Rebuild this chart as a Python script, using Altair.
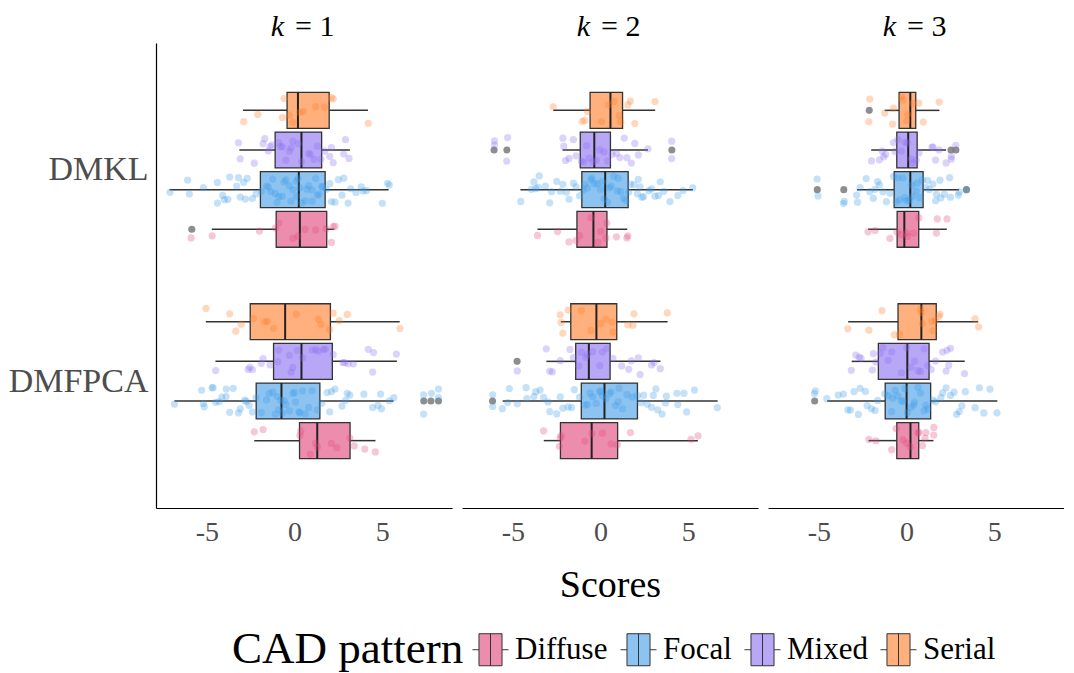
import altair as alt
import pandas as pd

# ---------------- data ----------------
K_VALUES = [1, 2, 3]
METHODS = ["DMKL", "DMFPCA"]
PATTERNS = ["Diffuse", "Focal", "Mixed", "Serial"]
FILL_COLORS = ["#EC8DAE", "#8CC3F1", "#B8A7F6", "#FFB07C"]
POINT_COLORS = ["#E0457B", "#3A9AE8", "#8B6CF2", "#FF7C25"]

# order: k -> method (DMKL, DMFPCA) -> pattern (Diffuse, Focal, Mixed, Serial)
whisker_low = [-4.72, -7.13, -3.15, -2.94, -2.30, -6.85, -4.51, -5.06,
               -3.60, -4.57, -2.17, -2.70, -3.24, -5.58, -3.09, -2.27,
               -2.19, -2.83, -2.02, -1.25, -2.17, -4.53, -3.13, -3.33]
q1 = [-1.05, -1.95, -1.11, -0.43, 0.28, -2.19, -1.20, -2.53,
      -1.35, -1.07, -1.16, -0.60, -2.29, -1.10, -1.42, -1.70,
      -0.54, -0.71, -0.56, -0.43, -0.56, -1.22, -1.61, -0.49]
median = [0.30, 0.24, 0.39, 0.19, 1.29, -0.75, 0.39, -0.54,
          -0.41, 0.26, -0.36, 0.56, -0.51, 0.22, -0.67, -0.24,
          -0.13, 0.21, 0.09, 0.21, 0.22, 0.00, 0.04, 0.84]
q3 = [1.83, 1.74, 1.54, 1.97, 3.16, 1.44, 2.15, 2.04,
      0.36, 1.57, 0.56, 1.25, 0.97, 2.10, 0.54, 0.92,
      0.69, 0.94, 0.60, 0.52, 0.69, 1.37, 1.28, 1.69]
whisker_high = [2.26, 5.36, 3.15, 4.18, 4.61, 5.64, 5.83, 5.99,
                1.52, 5.26, 2.70, 3.11, 5.54, 6.67, 3.41, 3.82,
                2.29, 2.99, 2.25, 1.87, 1.53, 5.17, 3.31, 4.08]

outliers = [
    (1, "DMKL", "Diffuse", -5.86),
    (1, "DMFPCA", "Focal", 7.36), (1, "DMFPCA", "Focal", 7.77), (1, "DMFPCA", "Focal", 8.20),
    (2, "DMKL", "Mixed", -6.07), (2, "DMKL", "Mixed", -5.34), (2, "DMKL", "Mixed", 4.06),
    (2, "DMFPCA", "Mixed", -4.76), (2, "DMFPCA", "Focal", -6.16),
    (3, "DMKL", "Serial", -2.13), (3, "DMKL", "Mixed", 2.53), (3, "DMKL", "Mixed", 2.81),
    (3, "DMKL", "Focal", -5.09), (3, "DMKL", "Focal", -3.58), (3, "DMKL", "Focal", 3.41),
    (3, "DMFPCA", "Focal", -5.24),
]

points = {
    (1, "DMKL", "Diffuse"): [-5.9, -4.7, -2.0, -1.1, -0.9, -0.1, 0.2, 0.6, 1.2, 1.8, 2.1, 2.2, 2.3],
    (1, "DMKL", "Focal"): [-7.1, -6.1, -6.0, -5.2, -4.4, -4.4, -4.1, -4.0, -3.8, -3.7, -3.3, -3.2, -3.1,
                           -2.9, -2.8, -2.7, -2.4, -2.2, -1.9, -1.6, -1.5, -1.35, -1.25, -1.1, -1.0,
                           -0.9, -0.7, -0.6, -0.5, -0.3, -0.2, -0.1, 0.1, 0.1, 0.2, 0.3, 0.4, 0.6,
                           0.7, 0.8, 1.0, 1.0, 1.2, 1.3, 1.4, 1.55, 1.6, 1.8, 2.0, 2.1, 2.3, 2.5,
                           2.7, 2.8, 3.05, 3.2, 3.5, 3.8, 3.9, 4.1, 5.0, 5.3, 5.4],
    (1, "DMKL", "Mixed"): [-3.2, -3.1, -2.3, -1.8, -1.7, -1.5, -1.4, -1.3, -0.9, -0.8, -0.7, -0.5,
                           -0.3, -0.2, -0.1, 0.2, 0.4, 0.8, 0.9, 1.1, 1.3, 1.5, 1.7, 2.0, 2.1, 2.2,
                           2.8, 2.9, 3.1],
    (1, "DMKL", "Serial"): [-2.9, -2.1, -0.7, -0.6, -0.3, -0.1, 0.3, 0.5, 1.2, 1.7, 2.1, 2.2, 4.2],
    (1, "DMFPCA", "Diffuse"): [-2.3, -1.8, 0.3, 0.35, 0.9, 1.2, 1.3, 2.1, 2.4, 3.15, 3.4, 4.0, 4.6],
    (1, "DMFPCA", "Focal"): [-6.85, -5.3, -5.2, -5.15, -4.7, -4.65, -4.5, -4.3, -4.15, -3.9, -3.9,
                             -3.7, -3.5, -3.2, -3.1, -2.85, -2.75, -2.6, -2.4, -2.2, -1.9, -1.6,
                             -1.45, -1.25, -1.1, -1.0, -0.9, -0.8, -0.7, -0.6, -0.5, -0.3, -0.1,
                             0.0, 0.05, 0.25, 0.3, 0.45, 0.6, 0.8, 1.0, 1.3, 1.55, 1.85, 2.0, 2.1,
                             2.3, 2.7, 2.9, 3.0, 3.15, 3.95, 4.45, 4.75, 4.9, 4.95, 5.4, 5.65,
                             7.35, 7.35, 7.8, 8.2, 8.2],
    (1, "DMFPCA", "Mixed"): [-4.5, -2.65, -2.55, -2.4, -1.9, -1.8, -1.4, -0.95, -0.9, -0.3, -0.2,
                             -0.1, 0.15, 0.45, 1.0, 1.2, 1.35, 1.65, 1.75, 2.2, 2.75, 2.85, 3.05,
                             3.35, 4.2, 4.45, 4.5, 5.8],
    (1, "DMFPCA", "Serial"): [-5.05, -3.7, -3.35, -3.05, -2.35, -1.7, -1.55, -1.2, 0.1, 1.35, 1.5,
                              2.0, 2.2, 2.55, 3.0, 6.0],
    (2, "DMKL", "Diffuse"): [-3.6, -2.45, -1.8, -1.4, -1.2, -0.55, -0.15, 0.0, 0.3, 0.35, 0.9, 1.5, 1.55],
    (2, "DMKL", "Focal"): [-4.55, -3.95, -3.8, -3.7, -3.55, -3.5, -3.15, -2.9, -2.8, -2.5, -2.3,
                           -2.15, -1.95, -1.8, -1.55, -1.4, -1.2, -1.0, -0.9, -0.75, -0.55, -0.5,
                           -0.35, -0.2, 0.0, 0.1, 0.2, 0.4, 0.5, 0.6, 0.75, 0.95, 1.0, 1.15, 1.3,
                           1.45, 1.6, 1.7, 1.9, 2.1, 2.15, 2.25, 2.35, 2.45, 2.75, 2.9, 3.1, 3.3,
                           3.4, 3.6, 3.95, 4.4, 4.7, 5.25],
    (2, "DMKL", "Mixed"): [-6.05, -6.05, -5.35, -5.3, -2.15, -2.1, -2.0, -1.8, -1.55, -1.4, -1.1,
                           -0.95, -0.8, -0.65, -0.45, -0.25, -0.05, 0.2, 0.4, 0.65, 0.9, 1.1, 1.35,
                           1.5, 1.75, 1.95, 2.15, 2.7, 4.05, 4.05],
    (2, "DMKL", "Serial"): [-2.7, -1.05, -0.9, -0.75, 0.05, 0.45, 0.75, 1.05, 1.15, 1.55, 1.7, 1.95, 3.1],
    (2, "DMFPCA", "Diffuse"): [-3.25, -2.35, -2.3, -2.25, -0.9, -0.5, 0.1, 0.6, 0.95, 1.7, 5.15, 5.55],
    (2, "DMFPCA", "Focal"): [-6.15, -6.15, -5.6, -5.3, -5.2, -4.75, -4.25, -4.2, -3.8, -3.7, -3.45,
                             -3.25, -3.0, -2.9, -2.5, -2.3, -2.15, -1.85, -1.65, -1.5, -1.2, -0.9,
                             -0.75, -0.6, -0.45, -0.25, -0.05, 0.0, 0.1, 0.3, 0.5, 0.6, 0.85, 1.0,
                             1.05, 1.25, 1.5, 1.8, 2.1, 2.3, 2.45, 2.65, 2.9, 3.0, 3.15, 3.25, 3.5,
                             3.7, 3.75, 4.35, 4.4, 4.75, 4.9, 5.35, 6.65],
    (2, "DMFPCA", "Mixed"): [-4.75, -3.1, -2.9, -2.75, -2.3, -1.75, -1.55, -1.25, -1.1, -0.85,
                             -0.75, -0.45, -0.05, 0.1, 0.35, 0.7, 1.2, 1.6, 1.75, 2.15, 2.25, 2.9,
                             3.05, 3.4],
    (2, "DMFPCA", "Serial"): [-2.3, -2.25, -2.15, -1.85, -1.1, -0.55, 0.0, 0.3, 0.65, 0.7, 1.55,
                              1.85, 1.9, 3.8],
    (3, "DMKL", "Diffuse"): [-2.2, -1.8, -0.95, -0.55, -0.3, 0.0, 0.05, 0.4, 0.7, 1.7, 1.75, 2.3],
    (3, "DMKL", "Focal"): [-5.1, -5.05, -3.6, -3.55, -2.85, -2.8, -2.65, -2.3, -2.1, -1.9, -1.8,
                           -1.65, -1.55, -1.35, -1.15, -0.95, -0.75, -0.6, -0.5, -0.4, -0.2, -0.1,
                           0.0, 0.15, 0.3, 0.35, 0.55, 0.6, 0.75, 0.9, 1.1, 1.2, 1.3, 1.5, 1.65,
                           1.7, 1.9, 1.95, 2.15, 2.45, 2.5, 2.95, 3.0, 3.4],
    (3, "DMKL", "Mixed"): [-2.0, -1.55, -1.4, -1.3, -1.2, -0.75, -0.65, -0.5, -0.3, -0.1, 0.05,
                           0.25, 0.35, 0.55, 0.7, 1.45, 1.5, 1.65, 1.85, 2.25, 2.55, 2.55, 2.8],
    (3, "DMKL", "Serial"): [-2.15, -2.1, -1.25, -0.8, -0.75, -0.3, -0.2, 0.0, 0.05, 0.35, 0.7, 0.95, 1.85],
    (3, "DMFPCA", "Diffuse"): [-2.15, -1.75, -0.85, -0.6, -0.2, 0.0, 0.2, 0.65, 0.7, 0.9, 1.05,
                               1.1, 1.55, 1.55],
    (3, "DMFPCA", "Focal"): [-5.25, -5.2, -4.55, -3.9, -3.6, -3.35, -3.2, -3.0, -2.75, -2.65,
                             -2.35, -2.25, -2.0, -1.8, -1.65, -1.25, -1.05, -0.85, -0.8, -0.65,
                             -0.5, -0.3, -0.2, -0.1, 0.05, 0.25, 0.4, 0.45, 0.65, 0.8, 1.0, 1.1,
                             1.2, 1.5, 1.65, 1.95, 2.05, 2.25, 2.5, 2.7, 2.85, 3.0, 3.15, 3.35,
                             3.9, 4.15, 4.4, 4.75, 5.15],
    (3, "DMFPCA", "Mixed"): [-3.15, -2.9, -2.7, -2.6, -1.95, -1.9, -1.75, -1.5, -1.35, -1.05,
                             -0.85, -0.3, 0.0, 0.25, 0.45, 0.65, 0.8, 1.0, 1.2, 1.4, 1.65, 2.05,
                             2.25, 2.3, 2.4, 2.5, 3.3],
    (3, "DMFPCA", "Serial"): [-3.35, -2.15, -1.4, -0.7, -0.4, 0.8, 0.85, 0.9, 1.45, 1.5, 1.65,
                              1.85, 1.9, 3.9, 4.1],
}

# ---------------- tables ----------------
rows = []
i = 0
for k in K_VALUES:
    for m in METHODS:
        for p in PATTERNS:
            rows.append(dict(k=k, method=m, pattern=p, wlo=whisker_low[i], q1=q1[i],
                             med=median[i], q3=q3[i], whi=whisker_high[i]))
            i += 1
stats = pd.DataFrame(rows)
out_df = pd.DataFrame(outliers, columns=["k", "method", "pattern", "value"])
prow = []
idx = 0
for (k, m, p), vals in points.items():
    for v in vals:
        prow.append(dict(k=k, method=m, pattern=p, value=v, idx=idx))
        idx += 1
pts = pd.DataFrame(prow)

FONT = "Liberation Serif"
POS = ("indexof(['DMFPCA','DMKL'], datum.method) + 1 + "
       "(indexof(['Diffuse','Focal','Mixed','Serial'], datum.pattern) - 1.5) * 0.1875")
JIT = "datum.pos + ((abs(sin(datum.idx * 12.9898 + 78.233)) * 43758.5453) % 1 - 0.5) * 0.13"
HALF = 0.085
W, H = 296, 465

xscale = alt.Scale(domain=[-7.9, 8.97], nice=False, zero=False)
yscale = alt.Scale(domain=[0.4, 2.6], nice=False, zero=False)

BOX_PATH = "M-0.64,-0.89H0.64V0.89H-0.64Z M0,-0.89V0.89 M-1,0H-0.64 M0.64,0H1"
legend = alt.Legend(
    orient="none", legendX=76, legendY=588, direction="horizontal",
    title="CAD pattern", titleOrient="left", titleFont=FONT, titleFontSize=45,
    titleFontWeight="normal", titleColor="black", titlePadding=8, titleLimit=400,
    labelFont=FONT, labelFontSize=31, labelColor="black", labelOffset=6, labelLimit=200,
    symbolType=BOX_PATH, symbolSize=1296, symbolStrokeColor="#333333",
    symbolStrokeWidth=1, symbolOpacity=1, columnPadding=10,
)


def panel(k, first, middle):
    xaxis = alt.Axis(values=[-5, 0, 5], labelExpr="'' + datum.value", ticks=False, tickSize=0,
                     grid=False, domainColor="black", domainWidth=1.2,
                     labelFont=FONT, labelFontSize=28, labelColor="#4D4D4D", labelPadding=10,
                     title="Scores" if middle else None, titleFont=FONT, titleFontSize=38,
                     titleFontWeight="normal", titleColor="black", titlePadding=20)
    if first:
        yaxis = alt.Axis(values=[1, 2], labelExpr="datum.value == 2 ? 'DMKL' : 'DMFPCA'",
                         ticks=False, tickSize=0, grid=False, domainColor="black",
                         domainWidth=1.2, labelFont=FONT, labelFontSize=34,
                         labelColor="#4D4D4D", labelPadding=8, title=None)
    else:
        yaxis = None

    X = lambda f: alt.X(f, type="quantitative", scale=xscale, axis=xaxis)
    Y = lambda f: alt.Y(f, type="quantitative", scale=yscale, axis=yaxis)

    sb = alt.Chart(stats[stats.k == k]).transform_calculate(
        pos=POS).transform_calculate(lo=f"datum.pos - {HALF}", hi=f"datum.pos + {HALF}")

    w_lo = sb.mark_rule(color="#333333", strokeWidth=1.5).encode(
        x=X("wlo"), x2="q1:Q", y=Y("pos"))
    w_hi = sb.mark_rule(color="#333333", strokeWidth=1.5).encode(
        x=X("q3"), x2="whi:Q", y=Y("pos"))
    box = sb.mark_rect(stroke="#333333", strokeWidth=1.3).encode(
        x=X("q1"), x2="q3:Q", y=Y("lo"), y2="hi:Q",
        fill=alt.Fill("pattern:N", scale=alt.Scale(domain=PATTERNS, range=FILL_COLORS),
                      legend=legend))
    med = sb.mark_rule(color="#222222", strokeWidth=2).encode(
        x=X("med"), y=Y("lo"), y2="hi:Q")

    ob = alt.Chart(out_df[out_df.k == k]).transform_calculate(pos=POS)
    outs = ob.mark_circle(color="#7A7A7A", opacity=0.85, size=50).encode(
        x=X("value"), y=Y("pos"))

    pb = alt.Chart(pts[pts.k == k]).transform_calculate(pos=POS).transform_calculate(jy=JIT)
    dots = pb.mark_circle(opacity=0.3, size=52).encode(
        x=X("value"), y=Y("jy"),
        color=alt.Color("pattern:N", scale=alt.Scale(domain=PATTERNS, range=POINT_COLORS),
                        legend=None))

    cx = W / 2
    t_k = alt.Chart(pd.DataFrame({"t": ["k"]})).mark_text(
        font=FONT, fontSize=30, fontStyle="italic", align="right", baseline="alphabetic",
        color="black").encode(text="t:N", x=alt.value(cx - 20), y=alt.value(-7))
    t_eq = alt.Chart(pd.DataFrame({"t": [f"= {k}"]})).mark_text(
        font=FONT, fontSize=30, align="left", baseline="alphabetic",
        color="black").encode(text="t:N", x=alt.value(cx - 9), y=alt.value(-7))

    return alt.layer(w_lo, w_hi, box, med, outs, dots, t_k, t_eq).properties(width=W, height=H)


chart = alt.hconcat(panel(1, True, False), panel(2, False, True), panel(3, False, False),
                    spacing=10).properties(
    padding={"top": 4, "left": 0, "right": 0, "bottom": 0}).configure_view(stroke=None)

chart.save("out.html", embed_options={"renderer": "svg", "actions": False})
